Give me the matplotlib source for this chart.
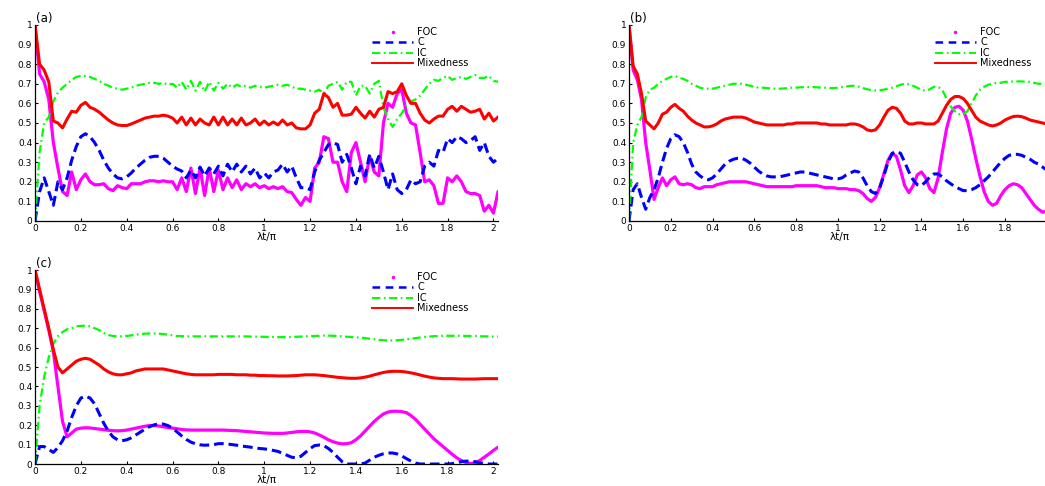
import matplotlib
matplotlib.use("Agg")
import matplotlib.pyplot as plt
from matplotlib.lines import Line2D
import numpy as np

plt.rcParams['font.family'] = ['DejaVu Sans']
plt.rcParams['lines.scale_dashes'] = False

# time axis, lambda t / pi, sampled every 0.02
lam_t = np.linspace(0, 2.02, 102)

# ---- panel (a) ----
foc_a = [1.00, 0.75, 0.71, 0.62, 0.40, 0.27, 0.15, 0.13, 0.25, 0.16,
         0.21, 0.24, 0.20, 0.185, 0.185, 0.19, 0.165, 0.155, 0.18, 0.17,
         0.165, 0.19, 0.19, 0.19, 0.20, 0.205, 0.205, 0.20, 0.205, 0.20,
         0.20, 0.16, 0.22, 0.15, 0.27, 0.14, 0.27, 0.13, 0.27, 0.15,
         0.26, 0.16, 0.22, 0.17, 0.21, 0.16, 0.19, 0.175, 0.19, 0.17,
         0.18, 0.165, 0.175, 0.165, 0.175, 0.15, 0.145, 0.11, 0.08, 0.12,
         0.10, 0.27, 0.30, 0.43, 0.42, 0.30, 0.30, 0.20, 0.15, 0.35,
         0.40, 0.30, 0.20, 0.33, 0.25, 0.23, 0.50, 0.60, 0.58, 0.65,
         0.67, 0.55, 0.50, 0.49, 0.35, 0.20, 0.21, 0.18, 0.09, 0.09,
         0.22, 0.20, 0.23, 0.20, 0.15, 0.14, 0.14, 0.13, 0.05, 0.08,
         0.04, 0.15]
c_a = [0.00, 0.15, 0.22, 0.15, 0.08, 0.20, 0.16, 0.22, 0.31, 0.38,
       0.43, 0.445, 0.43, 0.40, 0.36, 0.31, 0.27, 0.24, 0.22, 0.215,
       0.225, 0.245, 0.27, 0.29, 0.31, 0.325, 0.33, 0.33, 0.32, 0.30,
       0.28, 0.265, 0.255, 0.22, 0.26, 0.22, 0.275, 0.23, 0.27, 0.24,
       0.28, 0.23, 0.29, 0.25, 0.29, 0.25, 0.28, 0.24, 0.27, 0.22,
       0.245, 0.22, 0.25, 0.26, 0.29, 0.25, 0.28, 0.22, 0.17, 0.17,
       0.16, 0.25, 0.31, 0.35, 0.39, 0.40, 0.39, 0.30, 0.34, 0.27,
       0.19, 0.28, 0.23, 0.34, 0.27, 0.33, 0.25, 0.16, 0.24, 0.16,
       0.14, 0.16, 0.21, 0.19, 0.20, 0.28, 0.30, 0.28, 0.36, 0.35,
       0.42, 0.40, 0.43, 0.42, 0.40, 0.41, 0.43, 0.36, 0.40, 0.33,
       0.30, 0.32]
ic_a = [0.00, 0.35, 0.50, 0.53, 0.61, 0.655, 0.68, 0.70, 0.72, 0.735,
        0.74, 0.74, 0.735, 0.725, 0.715, 0.70, 0.69, 0.68, 0.675, 0.67,
        0.675, 0.68, 0.69, 0.695, 0.70, 0.705, 0.705, 0.70, 0.705, 0.695,
        0.70, 0.68, 0.71, 0.67, 0.715, 0.665, 0.71, 0.66, 0.71, 0.665,
        0.705, 0.675, 0.70, 0.68, 0.695, 0.685, 0.69, 0.68, 0.69, 0.685,
        0.68, 0.685, 0.69, 0.695, 0.69, 0.695, 0.685, 0.675, 0.675, 0.67,
        0.665, 0.66, 0.67, 0.65, 0.69, 0.70, 0.71, 0.67, 0.71, 0.71,
        0.64, 0.69, 0.69, 0.65, 0.70, 0.715, 0.58, 0.52, 0.48, 0.52,
        0.55, 0.59, 0.61, 0.62, 0.64, 0.67, 0.70, 0.72, 0.715, 0.73,
        0.74, 0.72, 0.73, 0.735, 0.725, 0.735, 0.745, 0.73, 0.73, 0.74,
        0.715, 0.71]
mix_a = [1.00, 0.80, 0.77, 0.71, 0.51, 0.50, 0.475, 0.52, 0.56, 0.555,
         0.59, 0.605, 0.58, 0.57, 0.555, 0.535, 0.515, 0.50, 0.49, 0.487,
         0.487, 0.495, 0.505, 0.515, 0.525, 0.53, 0.535, 0.535, 0.54, 0.535,
         0.525, 0.50, 0.53, 0.49, 0.525, 0.49, 0.52, 0.50, 0.49, 0.53,
         0.49, 0.53, 0.49, 0.52, 0.49, 0.525, 0.49, 0.50, 0.52, 0.49,
         0.51, 0.49, 0.505, 0.49, 0.515, 0.49, 0.50, 0.475, 0.47, 0.47,
         0.49, 0.55, 0.57, 0.65, 0.63, 0.58, 0.60, 0.54, 0.54, 0.545,
         0.58, 0.55, 0.525, 0.56, 0.53, 0.57, 0.58, 0.66, 0.65, 0.66,
         0.70, 0.64, 0.60, 0.60, 0.55, 0.515, 0.50, 0.52, 0.535, 0.535,
         0.57, 0.585, 0.56, 0.585, 0.57, 0.555, 0.56, 0.57, 0.52, 0.55,
         0.51, 0.53]

# ---- panel (b) ----
foc_b = [1.00, 0.77, 0.72, 0.62, 0.40, 0.26, 0.11, 0.17, 0.22, 0.18,
         0.21, 0.225, 0.19, 0.185, 0.19, 0.185, 0.17, 0.165, 0.175, 0.175,
         0.175, 0.185, 0.19, 0.195, 0.20, 0.20, 0.20, 0.20, 0.20, 0.195,
         0.19, 0.185, 0.18, 0.175, 0.175, 0.175, 0.175, 0.175, 0.175, 0.175,
         0.18, 0.18, 0.18, 0.18, 0.18, 0.18, 0.175, 0.17, 0.17, 0.17,
         0.165, 0.165, 0.165, 0.16, 0.16, 0.155, 0.14, 0.115, 0.10, 0.12,
         0.17, 0.24, 0.31, 0.345, 0.33, 0.26, 0.18, 0.145, 0.18, 0.235,
         0.25, 0.22, 0.165, 0.145, 0.22, 0.35, 0.47, 0.55, 0.58, 0.585,
         0.565, 0.51, 0.42, 0.32, 0.23, 0.15, 0.10, 0.08, 0.09, 0.13,
         0.16, 0.18, 0.19, 0.185, 0.17, 0.14, 0.11, 0.08, 0.06, 0.045,
         0.05, 0.07]
c_b = [0.00, 0.16, 0.19, 0.12, 0.06, 0.12, 0.16, 0.22, 0.30, 0.37,
       0.42, 0.44, 0.43, 0.40, 0.35, 0.29, 0.25, 0.23, 0.215, 0.21,
       0.22, 0.24, 0.265, 0.29, 0.305, 0.315, 0.32, 0.32, 0.31, 0.295,
       0.275, 0.255, 0.24, 0.23, 0.225, 0.225, 0.225, 0.23, 0.235, 0.24,
       0.245, 0.25, 0.25, 0.245, 0.24, 0.235, 0.23, 0.225, 0.22, 0.215,
       0.215, 0.22, 0.235, 0.245, 0.255, 0.25, 0.22, 0.18, 0.15, 0.14,
       0.17, 0.23, 0.30, 0.345, 0.355, 0.345, 0.30, 0.25, 0.21, 0.185,
       0.18, 0.20, 0.225, 0.24, 0.24, 0.225, 0.205, 0.19, 0.175, 0.165,
       0.155, 0.155, 0.16, 0.17, 0.185, 0.205, 0.225, 0.25, 0.275, 0.30,
       0.32, 0.335, 0.34, 0.34, 0.335, 0.325, 0.315, 0.30, 0.29, 0.275,
       0.26, 0.25]
ic_b = [0.00, 0.40, 0.49, 0.53, 0.63, 0.67, 0.68, 0.70, 0.715, 0.725,
        0.735, 0.74, 0.73, 0.725, 0.715, 0.70, 0.69, 0.68, 0.675, 0.675,
        0.675, 0.68, 0.685, 0.69, 0.695, 0.70, 0.70, 0.70, 0.695, 0.69,
        0.685, 0.68, 0.68, 0.678, 0.676, 0.675, 0.675, 0.676, 0.678, 0.68,
        0.68, 0.682, 0.683, 0.683, 0.683, 0.682, 0.68, 0.68, 0.678, 0.678,
        0.68, 0.683, 0.686, 0.689, 0.69, 0.685, 0.678, 0.672, 0.668, 0.666,
        0.667, 0.67, 0.675, 0.68, 0.687, 0.695, 0.70, 0.697, 0.69, 0.68,
        0.668, 0.665, 0.672, 0.685, 0.685, 0.668, 0.625, 0.585, 0.56, 0.545,
        0.545, 0.56, 0.60, 0.64, 0.67, 0.685, 0.695, 0.70, 0.705, 0.705,
        0.71, 0.71, 0.712, 0.712, 0.712, 0.71, 0.71, 0.705, 0.70, 0.70,
        0.70, 0.70]
mix_b = [1.00, 0.79, 0.75, 0.65, 0.51, 0.49, 0.47, 0.50, 0.545, 0.555,
         0.58, 0.595, 0.575, 0.56, 0.535, 0.515, 0.50, 0.49, 0.48, 0.48,
         0.485, 0.495, 0.51, 0.52, 0.525, 0.53, 0.53, 0.53, 0.525, 0.515,
         0.505, 0.50, 0.495, 0.49, 0.49, 0.49, 0.49, 0.49, 0.495, 0.495,
         0.50, 0.50, 0.50, 0.50, 0.50, 0.50, 0.495, 0.495, 0.49, 0.49,
         0.49, 0.49, 0.49, 0.495, 0.495, 0.49, 0.48, 0.465, 0.46, 0.465,
         0.49, 0.53, 0.565, 0.58, 0.575, 0.55, 0.51, 0.495, 0.495, 0.50,
         0.50, 0.495, 0.495, 0.495, 0.51, 0.55, 0.59, 0.62, 0.635, 0.635,
         0.625, 0.60, 0.565, 0.53, 0.51, 0.50, 0.49, 0.485, 0.49, 0.50,
         0.515, 0.525, 0.533, 0.535, 0.532, 0.525, 0.515, 0.51, 0.505, 0.50,
         0.495, 0.49]

# ---- panel (c) ----
foc_c = [1.00, 0.89, 0.79, 0.69, 0.58, 0.40, 0.22, 0.14, 0.16, 0.18,
         0.185, 0.187, 0.186, 0.183, 0.18, 0.177, 0.174, 0.172, 0.171, 0.172,
         0.175, 0.18, 0.185, 0.19, 0.195, 0.198, 0.198, 0.196, 0.192, 0.188,
         0.185, 0.182, 0.178, 0.176, 0.175, 0.175, 0.175, 0.175, 0.175, 0.175,
         0.175, 0.175, 0.174, 0.173, 0.172, 0.17, 0.168, 0.166, 0.164, 0.162,
         0.16, 0.159, 0.158, 0.158, 0.158, 0.16, 0.163, 0.166, 0.168, 0.168,
         0.166, 0.16, 0.15, 0.138, 0.125, 0.115, 0.108, 0.104, 0.105, 0.11,
         0.125, 0.145, 0.17, 0.195, 0.22, 0.24, 0.258, 0.268, 0.272, 0.272,
         0.27, 0.265, 0.25, 0.23, 0.205, 0.18, 0.155, 0.13, 0.11, 0.09,
         0.07, 0.05, 0.032, 0.018, 0.008, 0.003, 0.006, 0.018, 0.035, 0.052,
         0.07, 0.087]
c_c = [0.00, 0.09, 0.09, 0.075, 0.06, 0.085, 0.12, 0.17, 0.24, 0.30,
       0.34, 0.35, 0.34, 0.31, 0.26, 0.21, 0.17, 0.14, 0.125, 0.12,
       0.125, 0.135, 0.15, 0.165, 0.18, 0.193, 0.202, 0.207, 0.206, 0.198,
       0.185, 0.165, 0.145, 0.127, 0.113, 0.104, 0.099, 0.097, 0.098, 0.10,
       0.105, 0.105, 0.103, 0.10, 0.097, 0.093, 0.09, 0.087, 0.083, 0.08,
       0.078, 0.075, 0.07, 0.065, 0.055, 0.045, 0.035, 0.032, 0.04, 0.06,
       0.08, 0.095, 0.098, 0.095, 0.08, 0.06, 0.035, 0.012, 0.0, 0.0,
       0.0, 0.0, 0.005, 0.02, 0.035, 0.045, 0.053, 0.057, 0.057, 0.052,
       0.042, 0.028, 0.015, 0.005, 0.0, 0.0, 0.0, 0.0, 0.0, 0.0,
       0.0, 0.002, 0.007, 0.012, 0.015, 0.015, 0.012, 0.007, 0.003, 0.0,
       0.0, 0.0]
ic_c = [0.00, 0.30, 0.45, 0.55, 0.62, 0.66, 0.68, 0.695, 0.70, 0.71,
        0.712, 0.713, 0.71, 0.70, 0.69, 0.675, 0.665, 0.66, 0.658, 0.658,
        0.66, 0.663, 0.667, 0.67, 0.672, 0.673, 0.673, 0.672, 0.67, 0.667,
        0.663, 0.66, 0.659, 0.658, 0.658, 0.658, 0.658, 0.658, 0.658, 0.658,
        0.658, 0.658, 0.658, 0.658, 0.658, 0.658, 0.658, 0.657, 0.657, 0.656,
        0.656, 0.655, 0.655, 0.654, 0.654, 0.654, 0.655, 0.656, 0.657, 0.658,
        0.659, 0.66, 0.661, 0.662, 0.662, 0.661, 0.66, 0.658, 0.656, 0.655,
        0.653, 0.651, 0.649, 0.646, 0.643, 0.64, 0.638, 0.637, 0.637, 0.638,
        0.64, 0.643, 0.646, 0.649, 0.652, 0.655, 0.657, 0.659, 0.66, 0.661,
        0.661, 0.661, 0.661, 0.661, 0.66, 0.66, 0.66, 0.659, 0.658, 0.658,
        0.657, 0.657]
mix_c = [1.00, 0.90, 0.80, 0.70, 0.59, 0.50, 0.47, 0.49, 0.51, 0.53,
         0.54, 0.545, 0.54, 0.525, 0.51, 0.49, 0.475, 0.465, 0.46, 0.46,
         0.465, 0.47, 0.48, 0.485, 0.49, 0.49, 0.49, 0.49, 0.49, 0.485,
         0.48, 0.475, 0.47, 0.465, 0.462, 0.46, 0.46, 0.46, 0.46, 0.46,
         0.462, 0.462, 0.462, 0.462, 0.46, 0.46, 0.46, 0.458, 0.458, 0.456,
         0.456, 0.455, 0.455, 0.454, 0.454, 0.454, 0.455, 0.456, 0.458, 0.46,
         0.46, 0.46, 0.458, 0.456, 0.453, 0.45, 0.447, 0.445, 0.443, 0.442,
         0.442, 0.444, 0.448, 0.453, 0.46, 0.466, 0.472, 0.476, 0.478, 0.478,
         0.477, 0.474, 0.47, 0.465, 0.459, 0.453, 0.448, 0.444, 0.442, 0.44,
         0.44, 0.44, 0.439, 0.438, 0.438, 0.438, 0.438, 0.439, 0.44, 0.44,
         0.44, 0.44]

labels = ['FOC', 'C', 'IC', 'Mixedness']
x_ticks = [0, 0.2, 0.4, 0.6, 0.8, 1, 1.2, 1.4, 1.6, 1.8, 2]
y_ticks = [0, 0.1, 0.2, 0.3, 0.4, 0.5, 0.6, 0.7, 0.8, 0.9, 1]

MAG, BLUE, GREEN, RED = '#ff00ff', '#0000ff', '#00ff00', '#ff0000'
DASH = (0, (7, 3.5))
DASHDOT = (0, (6, 2.5, 1.2, 2.5))


def draw_panel(ax, foc, c, ic, mix, tag, leg_x):
    ax.plot(lam_t, foc, color=MAG, lw=2.3, solid_capstyle='round')
    ax.plot(lam_t, c, color=BLUE, lw=2.2, linestyle=DASH)
    ax.plot(lam_t, ic, color=GREEN, lw=1.6, linestyle=DASHDOT)
    ax.plot(lam_t, mix, color=RED, lw=2.2)

    ax.set_xlim(0, 2.02)
    ax.set_ylim(0, 1)
    ax.set_xticks(x_ticks)
    ax.set_xticklabels([f'{v:g}' for v in x_ticks])
    ax.set_yticks(y_ticks)
    ax.set_yticklabels([f'{v:g}' for v in y_ticks])
    ax.tick_params(direction='in', length=2.5, width=0.8, labelsize=6.5, pad=2)
    for side in ('top', 'right'):
        ax.spines[side].set_visible(False)
    for side in ('left', 'bottom'):
        ax.spines[side].set_linewidth(0.9)
    ax.set_xlabel('λt/π', fontsize=7.5, labelpad=-0.5)
    ax.text(0.002, 1.0, tag, transform=ax.transAxes, fontsize=8.5,
            ha='left', va='bottom')

    handles = [Line2D([], [], color=MAG, marker='.', linestyle='none', markersize=3),
               Line2D([], [], color=BLUE, lw=1.8, linestyle=(0, (5.5, 4))),
               Line2D([], [], color=GREEN, lw=1.4, linestyle=DASHDOT),
               Line2D([], [], color=RED, lw=1.4)]
    ax.legend(handles, labels, loc='upper left', bbox_to_anchor=(leg_x, 0.99),
              frameon=False, fontsize=7, handlelength=4.2, handletextpad=0.45,
              labelspacing=0.05, borderpad=0, borderaxespad=0, numpoints=1)


fig = plt.figure(figsize=(10.45, 4.86), dpi=100)
ax_a = fig.add_axes([0.0335, 0.5453, 0.4431, 0.4033])
ax_b = fig.add_axes([0.6019, 0.5453, 0.4038, 0.4033])
ax_c = fig.add_axes([0.0335, 0.0452, 0.4431, 0.3992])

draw_panel(ax_a, foc_a, c_a, ic_a, mix_a, '(a)', 0.728)
draw_panel(ax_b, foc_b, c_b, ic_b, mix_b, '(b)', 0.725)
draw_panel(ax_c, foc_c, c_c, ic_c, mix_c, '(c)', 0.728)

fig.savefig('out.png', dpi=100)
